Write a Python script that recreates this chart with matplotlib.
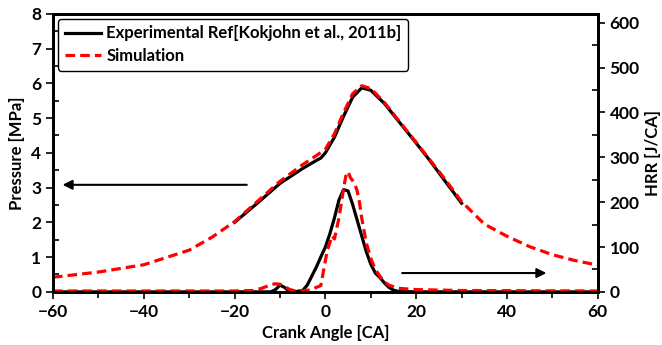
import matplotlib
matplotlib.use("Agg")
from matplotlib import pyplot as plt
from matplotlib.ticker import MultipleLocator

plt.rcParams['font.family'] = ['Lato', 'DejaVu Sans']
plt.rcParams['font.weight'] = 'bold'

# presion
ca_p_sim = [-60, -50, -40, -30, -25, -20, -15, -10, -5, -2, 0, 2, 4, 6, 8, 10, 13, 16, 20, 23, 26, 30,
            35, 40, 45, 50, 55, 60]
p_sim = [0.42, 0.57, 0.78, 1.2, 1.57, 2.02, 2.6, 3.18, 3.66, 3.92, 4.1, 4.55, 5.15, 5.7, 5.93, 5.85, 5.45,
         4.95, 4.3, 3.8, 3.3, 2.6, 1.95, 1.6, 1.3, 1.07, 0.9, 0.77]
ca_p_exp = [-20, -15, -10, -5, -2, -1, 0, 2, 4, 6, 8, 10, 13, 16, 20, 23, 26, 30]
p_exp = [2.0, 2.55, 3.12, 3.55, 3.78, 3.85, 4.0, 4.45, 5.05, 5.6, 5.87, 5.8, 5.42, 4.93, 4.28, 3.78, 3.25, 2.55]

# tasa de liberacion de calor
ca_h_exp = [-60, -12, -11, -10, -9, -8, -7, -5, -4, -3, -2, -1, 0, 1, 2, 3, 4, 5, 6, 7, 8, 9, 10, 11, 12,
            13, 14, 15, 16, 20, 60]
hrr_exp = [0, 0, 5, 15, 10, 2, 0, 3, 15, 35, 55, 78, 100, 130, 165, 205, 228, 225, 195, 160, 125, 90, 62,
           42, 32, 20, 10, 4, 1, 0, 0]
ca_h_sim = [-60, -20, -16, -14, -12, -11, -10, -9, -8, -7, -6, -5, -3, -2, -1, 0, 0.5, 1, 1.5, 2, 3, 4,
            4.5, 5, 5.5, 6, 6.5, 7, 7.5, 8, 9, 10, 11, 12, 13, 14, 16, 20, 30, 60]
hrr_sim = [2, 2, 3, 8, 16, 18, 17, 12, 6, 3, 2, 2, 5, 10, 14, 70, 95, 110, 125, 118, 165, 230, 258, 268,
           255, 248, 240, 225, 200, 165, 110, 75, 50, 35, 22, 15, 8, 5, 3, 2]

fig = plt.figure(figsize=(6.62, 3.45), dpi=100)
ax = fig.add_axes([0.080, 0.154, 0.823, 0.806])
ax2 = ax.twinx()

ax.plot(ca_p_exp, p_exp, color='black', lw=2.3, label='Experimental Ref[Kokjohn et al., 2011b]')
ax.plot(ca_p_sim, p_sim, color='red', lw=2.3, ls=(0, (3, 1.6)), label='Simulation')
ax2.plot(ca_h_exp, hrr_exp, color='black', lw=2.3)
ax2.plot(ca_h_sim, hrr_sim, color='red', lw=2.3, ls=(0, (3, 1.6)))

ax.set_xlim(-60, 60)
ax.set_ylim(0, 8)
ax2.set_ylim(0, 620)

ax.xaxis.set_major_locator(MultipleLocator(20))
ax.xaxis.set_minor_locator(MultipleLocator(10))
ax.yaxis.set_major_locator(MultipleLocator(1))
ax.yaxis.set_minor_locator(MultipleLocator(0.5))
ax2.yaxis.set_major_locator(MultipleLocator(100))
ax2.yaxis.set_minor_locator(MultipleLocator(50))

ax.tick_params(axis='both', which='major', direction='out', length=5, width=1.2, labelsize=12.5)
ax.tick_params(axis='x', which='minor', direction='out', length=4, width=1.2)
ax.tick_params(axis='y', which='minor', direction='in', length=4, width=1.2)
ax2.tick_params(axis='y', which='major', direction='out', length=5, width=1.2, labelsize=12.5)
ax2.tick_params(axis='y', which='minor', direction='in', length=4, width=1.2)
for a in (ax, ax2):
    for s in a.spines.values():
        s.set_linewidth(2)

ax.set_xlabel('Crank Angle [CA]', fontsize=12, fontweight='bold')
ax.set_ylabel('Pressure [MPa]', fontsize=12, fontweight='bold')
ax2.set_ylabel('HRR [J/CA]', fontsize=12, fontweight='bold')

# flechas
ax.annotate('', xy=(-58.5, 3.08), xytext=(-16.7, 3.08),
            arrowprops=dict(arrowstyle='-|>', color='black', lw=1.5, mutation_scale=14))
ax2.annotate('', xy=(49.3, 42), xytext=(16.3, 42),
             arrowprops=dict(arrowstyle='-|>', color='black', lw=1.5, mutation_scale=14))

leg = ax.legend(loc='upper left', handlelength=2.2, borderaxespad=0.3,
                labelspacing=0.4, handletextpad=0.3, fancybox=True, framealpha=1,
                prop={'weight': 'bold', 'size': 12})
leg.get_frame().set_edgecolor('black')
leg.get_frame().set_linewidth(1)
leg.set_zorder(5)

plt.savefig('out.png', dpi=100)
